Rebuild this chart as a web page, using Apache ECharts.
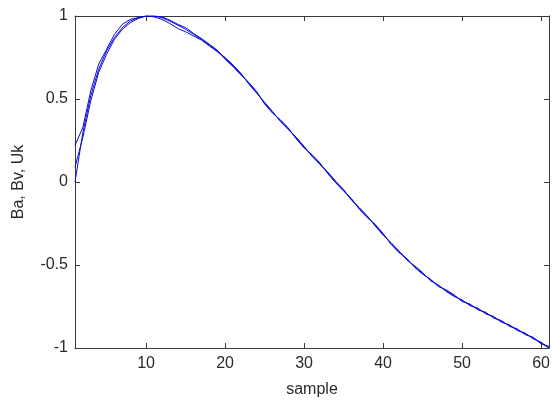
<!DOCTYPE html>
<html>
<head>
<meta charset="utf-8">
<script src="https://cdn.jsdelivr.net/npm/echarts@6/dist/echarts.min.js"></script>
<style>html,body{margin:0;padding:0;background:#fff}#c{width:553px;height:403px}</style>
</head>
<body>
<div id="c"></div>
<script>
const xTicks = [10, 20, 30, 40, 50, 60];
const yTicks = [-1, -0.5, 0, 0.5, 1];
const Ba = [0.00,0.30,0.52,0.68,0.79,0.87,0.93,0.97,0.99,1.00,
  1.00,0.99,0.97,0.945,0.92,0.89,0.86,0.825,0.79,0.745,
  0.70,0.65,0.595,0.54,0.475,0.42,0.37,0.32,0.265,0.21,
  0.16,0.11,0.055,0.00,-0.05,-0.105,-0.16,-0.21,-0.26,-0.315,
  -0.37,-0.42,-0.465,-0.51,-0.55,-0.59,-0.625,-0.655,-0.685,-0.715,
  -0.74,-0.765,-0.79,-0.815,-0.84,-0.865,-0.89,-0.915,-0.94,-0.97,-1.00];
const Bv = [0.22,0.33,0.55,0.71,0.80,0.89,0.95,0.98,0.99,1.00,
  0.995,0.98,0.955,0.925,0.905,0.88,0.855,0.82,0.785,0.75,
  0.705,0.655,0.59,0.535,0.48,0.425,0.365,0.315,0.27,0.215,
  0.155,0.105,0.06,0.005,-0.045,-0.11,-0.155,-0.205,-0.265,-0.32,
  -0.365,-0.415,-0.47,-0.505,-0.545,-0.595,-0.62,-0.66,-0.69,-0.71,
  -0.745,-0.76,-0.795,-0.81,-0.845,-0.86,-0.895,-0.91,-0.945,-0.965,-1.00];
const Uk = [0.09,0.27,0.49,0.66,0.77,0.86,0.92,0.96,0.985,1.00,
  1.00,0.995,0.975,0.95,0.93,0.895,0.865,0.83,0.795,0.74,
  0.695,0.645,0.60,0.545,0.47,0.415,0.375,0.325,0.26,0.205,
  0.165,0.115,0.05,-0.005,-0.055,-0.10,-0.165,-0.215,-0.255,-0.31,
  -0.375,-0.425,-0.46,-0.515,-0.555,-0.585,-0.63,-0.65,-0.68,-0.72,
  -0.735,-0.77,-0.785,-0.82,-0.835,-0.87,-0.885,-0.92,-0.935,-0.975,-0.99];

const pairs = arr => arr.map((v, i) => [i + 1, v]);
const font = 'Liberation Sans, Arial, sans-serif';
const axisCol = '#3a3a3a';
const textCol = '#2a2a2a';

const chart = echarts.init(document.getElementById('c'), null, {renderer: 'canvas'});
const baseX = {
  type: 'value', min: 1, max: 61,
  axisLine: {show: true, onZero: false, lineStyle: {color: axisCol, width: 1}},
  axisTick: {show: true, inside: true, length: 5, customValues: xTicks, lineStyle: {color: axisCol}},
  splitLine: {show: false}
};
const baseY = {
  type: 'value', min: -1, max: 1, interval: 0.5,
  axisLine: {show: true, onZero: false, lineStyle: {color: axisCol, width: 1}},
  axisTick: {show: true, inside: true, length: 5, lineStyle: {color: axisCol}},
  splitLine: {show: false}
};
const lineSeries = (name, arr) => ({
  name, type: 'line', data: pairs(arr), showSymbol: false, symbol: 'none',
  lineStyle: {color: '#0a0ad8', width: 1}, animation: false, z: 3
});
chart.setOption({
  animation: false,
  grid: {left: 75, right: 1, top: 16, bottom: 55, containLabel: false},
  xAxis: [
    Object.assign({}, baseX, {
      position: 'bottom',
      name: 'sample', nameLocation: 'middle', nameGap: 34,
      nameTextStyle: {fontFamily: font, fontSize: 16, color: textCol},
      axisLabel: {show: true, customValues: xTicks, margin: 8, fontFamily: font, fontSize: 16, color: textCol}
    }),
    Object.assign({}, baseX, {position: 'top', axisLabel: {show: false}})
  ],
  yAxis: [
    Object.assign({}, baseY, {
      position: 'left',
      name: 'Ba, Bv, Uk', nameLocation: 'middle', nameGap: 48, nameRotate: 90,
      nameTextStyle: {fontFamily: font, fontSize: 16, color: textCol},
      axisLabel: {show: true, margin: 7, fontFamily: font, fontSize: 16, color: textCol}
    }),
    Object.assign({}, baseY, {position: 'right', axisLabel: {show: false}})
  ],
  series: [lineSeries('Ba', Ba), lineSeries('Bv', Bv), lineSeries('Uk', Uk)]
});
</script>
</body>
</html>
